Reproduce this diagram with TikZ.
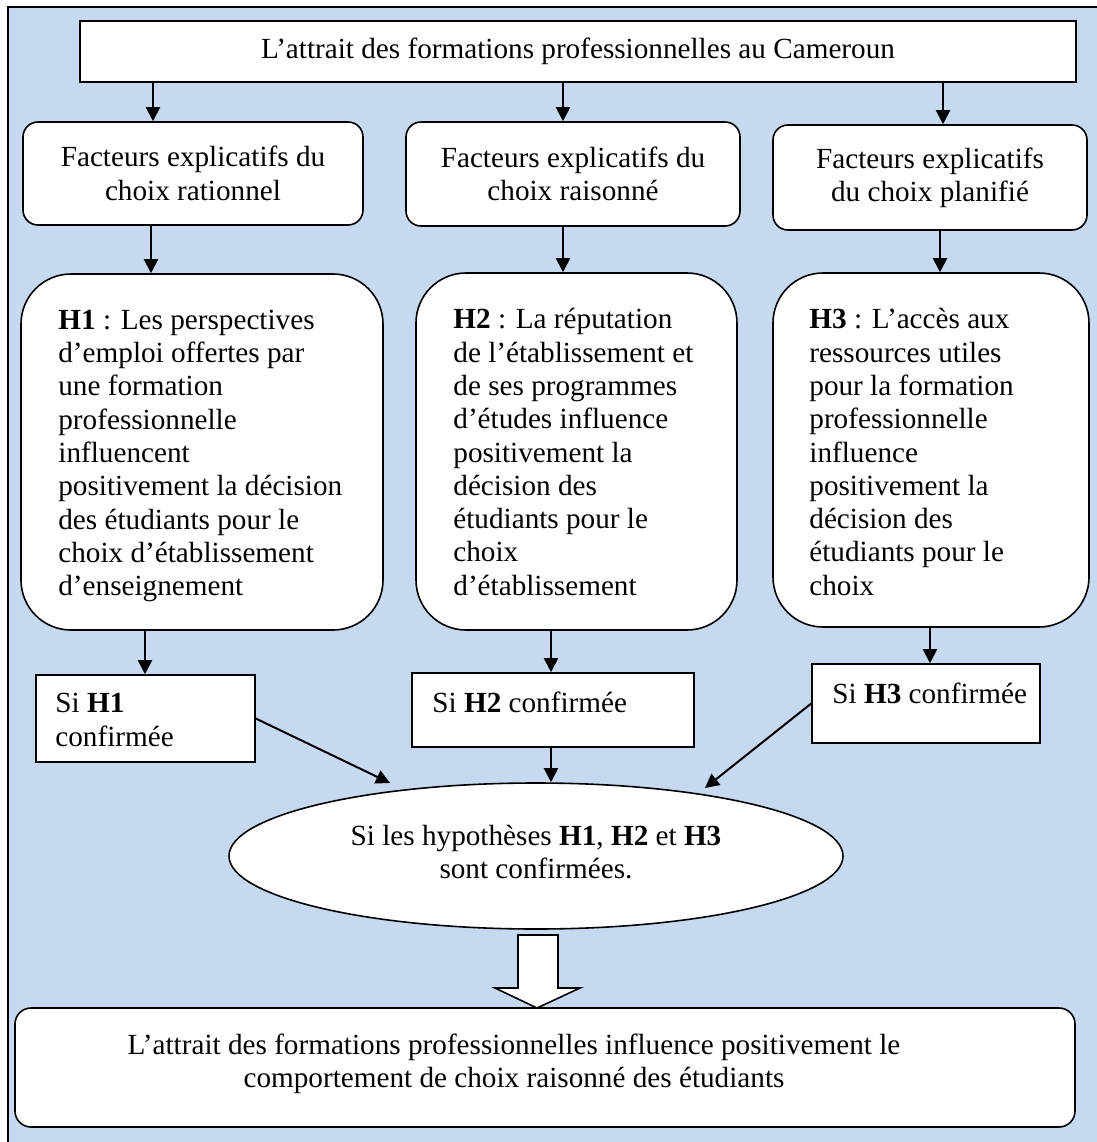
\documentclass[tikz,border=0pt]{standalone}
\usepackage{fontspec}
\setmainfont{Liberation Serif}
\usetikzlibrary{arrows.meta,shapes.geometric}
\definecolor{bgblue}{RGB}{198,217,240}
\begin{document}
\begin{tikzpicture}[x=0.5pt,y=-0.5pt,
  font=\fontsize{14.6}{16.65}\selectfont,
  box/.style={draw, fill=white, line width=0.8pt, inner sep=0pt},
  rbox/.style={box, rounded corners=7.5pt},
  hbox/.style={box, rounded corners=25pt},
  txt/.style={align=left, inner sep=0pt, anchor=west},
  ctxt/.style={align=center, inner sep=0pt},
  arr/.style={line width=1pt, -{Triangle[length=7pt,width=7pt]}}]
\useasboundingbox (0,0) rectangle (1097,1142);
% background frame
\fill[bgblue] (8,7) rectangle (1097,1142);
\draw[line width=1pt] (8,1142) -- (8,7) -- (1097,7);

% top
\node[box, minimum width=498pt, minimum height=30.5pt] (top) at (578,51.5) {L’attrait des formations professionnelles au Cameroun};

% factor boxes
\node[rbox, minimum width=170pt, minimum height=51.5pt, align=center] (f1) at (193,173.5) {Facteurs explicatifs du\\choix rationnel};
\node[rbox, minimum width=167pt, minimum height=52pt, align=center] (f2) at (573,174) {Facteurs explicatifs du\\choix raisonné};
\node[rbox, minimum width=157pt, minimum height=52.5pt, align=center] (f3) at (930,177.5) {Facteurs explicatifs\\du choix planifié};

% hypothesis boxes
\node[hbox, minimum width=181pt, minimum height=178pt] (h1) at (202,452) {};
\node[txt] (h1t) at (58,456) {\textbf{H1} : Les perspectives\\d’emploi offertes par\\une formation\\professionnelle\\influencent\\positivement la décision\\des étudiants pour le\\choix d’établissement\\d’enseignement};
\node[hbox, minimum width=160.5pt, minimum height=178.5pt] (h2) at (576.5,451.5) {};
\node[txt] (h2t) at (453,452) {\textbf{H2} : La réputation\\de l’établissement et\\de ses programmes\\d’études influence\\positivement la\\décision des\\étudiants pour le\\choix\\d’établissement};
\node[hbox, minimum width=158pt, minimum height=177pt] (h3) at (931,450) {};
\node[txt] (h3t) at (809,452) {\textbf{H3} : L’accès aux\\ressources utiles\\pour la formation\\professionnelle\\influence\\positivement la\\décision des\\étudiants pour le\\choix};

% confirmation boxes
\node[box, minimum width=109.5pt, minimum height=43.5pt] (s1) at (145.5,718.5) {};
\node[txt] (s1t) at (55,720) {Si \textbf{H1}\\confirmée};
\node[box, minimum width=141pt, minimum height=37pt] (s2) at (553,710) {};
\node[txt] (s2t) at (432,702) {Si \textbf{H2} confirmée};
\node[box, minimum width=114pt, minimum height=39.5pt] (s3) at (926,703.5) {};
\node[txt] (s3t) at (832,693) {Si \textbf{H3} confirmée};

% ellipse
\node[ellipse, draw, fill=white, line width=0.8pt, minimum width=307pt, minimum height=73pt, inner sep=0pt] (ell) at (536,856) {};
\node[ctxt] (ellt) at (536,852) {Si les hypothèses \textbf{H1}, \textbf{H2} et \textbf{H3}\\sont confirmées.};

% bottom box
\node[box, rounded corners=8pt, minimum width=530pt, minimum height=59.5pt] (bot) at (545,1067.5) {};
\node[ctxt] (bott) at (514,1064) {L’attrait des formations professionnelles influence positivement le\\comportement de choix raisonné des étudiants};

% arrow columns
\coordinate (c1) at (153,0);
\coordinate (c2) at (563,0);
\coordinate (c3) at (943,0);
\coordinate (d1) at (151,0);
\coordinate (d2) at (563,0);
\coordinate (d3) at (940,0);
\coordinate (g1) at (145,0);
\coordinate (g2) at (551,0);
\coordinate (g3) at (930,0);
\coordinate (e1) at (390,783);
\coordinate (e3) at (705,788);

\draw[arr] (top.south -| c1) -- (f1.north -| c1);
\draw[arr] (top.south -| c2) -- (f2.north -| c2);
\draw[arr] (top.south -| c3) -- (f3.north -| c3);
\draw[arr] (f1.south -| d1) -- (h1.north -| d1);
\draw[arr] (f2.south -| d2) -- (h2.north -| d2);
\draw[arr] (f3.south -| d3) -- (h3.north -| d3);
\draw[arr] (h1.south -| g1) -- (s1.north -| g1);
\draw[arr] (h2.south -| g2) -- (s2.north -| g2);
\draw[arr] (h3.south -| g3) -- (s3.north -| g3);
\draw[arr] (s1.east) -- (e1);
\draw[arr] (s2.south -| g2) -- (ell.north -| g2);
\draw[arr] (s3.west) -- (e3);

% hollow block arrow
\draw[fill=white, line width=0.8pt] (518,935) -- (558,935) -- (558,988) -- (580,988) -- (537,1008) -- (495,988) -- (518,988) -- cycle;
\end{tikzpicture}
\end{document}
